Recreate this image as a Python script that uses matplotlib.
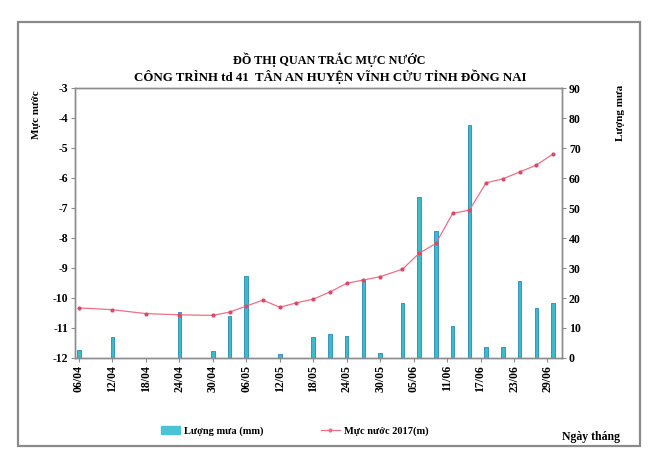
import matplotlib
matplotlib.use('Agg')
import matplotlib.pyplot as plt
from matplotlib.patches import Rectangle
from matplotlib.lines import Line2D
from matplotlib.patches import Patch

# days counted from 06/04
ngay = [0, 6, 12, 18, 24, 27, 30, 33, 36, 39, 42, 45, 48, 51, 54,
        58, 61, 64, 67, 70, 73, 76, 79, 82, 85]
muc_nuoc = [-10.33, -10.39, -10.52, -10.56, -10.58, -10.47, -10.27, -10.07, -10.31,
            -10.16, -10.04, -9.80, -9.51, -9.40, -9.29,
            -9.04, -8.51, -8.18, -7.18, -7.07, -6.16, -6.03, -5.80, -5.57, -5.20]
luong_mua = [2.8, 7.0, 0, 15.3, 2.2, 13.9, 27.3, 0, 1.5,
             0, 6.9, 7.9, 7.3, 26.2, 1.8,
             18.4, 53.6, 42.4, 10.7, 77.7, 3.8, 3.8, 25.8, 16.6, 18.2]

tick_ngay = [0, 6, 12, 18, 24, 30, 36, 42, 48, 54, 60, 66, 72, 78, 84]
tick_nhan = ['06/04', '12/04', '18/04', '24/04', '30/04', '06/05', '12/05', '18/05',
             '24/05', '30/05', '05/06', '11/06', '17/06', '23/06', '29/06']

serif = 'Liberation Serif'
plt.rcParams['font.family'] = serif
plt.rcParams['font.weight'] = 'bold'
plt.rcParams['axes.unicode_minus'] = False

fig = plt.figure(figsize=(6.51, 4.58), dpi=100)
fig.patches.append(Rectangle((18/651, 1-446/458), 622/651, 424/458, transform=fig.transFigure,
                             fill=False, edgecolor='#8a8a8a', linewidth=1.6))

ax = fig.add_axes([75/651, 1-358/458, 487/651, 270/458])
ax2 = ax.twinx()

# bars on the right axis, behind the line
ax2.bar(ngay, luong_mua, width=0.65, color='#3bbccb', edgecolor='#2a86b8', linewidth=0.6, zorder=2)
ax2.set_ylim(0, 90)
ax2.set_yticks(range(0, 91, 10))

ax.set_zorder(ax2.get_zorder() + 1)
ax.patch.set_visible(False)
ax.plot(ngay, muc_nuoc, color='#ec7088', linewidth=0.9, marker='o', markersize=2.0,
        markerfacecolor='#d84a68', markeredgecolor='#d84a68')
ax.set_ylim(-12, -3)
ax.set_yticks(range(-12, -2))
ax.set_xlim(-0.7, 86.6)
ax.set_xticks(tick_ngay)
ax.set_xticklabels(tick_nhan, rotation=90)

for a in (ax, ax2):
    for s in a.spines.values():
        s.set_color('#8c8c8c')
        s.set_linewidth(1.0)
    a.tick_params(length=3, width=0.8, color='#8c8c8c', labelsize=8.5, pad=2)

ax.text(-0.08, 0.99, 'Mực nước', transform=ax.transAxes, rotation=90,
        ha='center', va='top', fontsize=8)
ax2.text(1.12, 1.01, 'Lượng mưa', transform=ax2.transAxes, rotation=90,
         ha='center', va='top', fontsize=8)

fig.text(0.505, 1-60/458, 'ĐỒ THỊ QUAN TRẮC MỰC NƯỚC', ha='center', va='center', fontsize=8.7)
fig.text(0.507, 1-77/458, 'CÔNG TRÌNH td 41  TÂN AN HUYỆN VĨNH CỬU TỈNH ĐỒNG NAI',
         ha='center', va='center', fontsize=9.3)
fig.text(620/651, 1-437/458, 'Ngày tháng', ha='right', va='center', fontsize=8.5)

handles = [Patch(facecolor='#4cc3d2', edgecolor='#4cc3d2'),
           Line2D([], [], color='#ec7088', linewidth=0.9, marker='o', markersize=2.0)]
fig.legend(handles, ['Lượng mưa (mm)', 'Mực nước 2017(m)'], loc='center',
           bbox_to_anchor=(295/651, 1-431/458), ncol=2, frameon=False, fontsize=7.5,
           columnspacing=5.5, handlelength=1.8, handletextpad=0.4)

fig.savefig('out.png', dpi=100)
